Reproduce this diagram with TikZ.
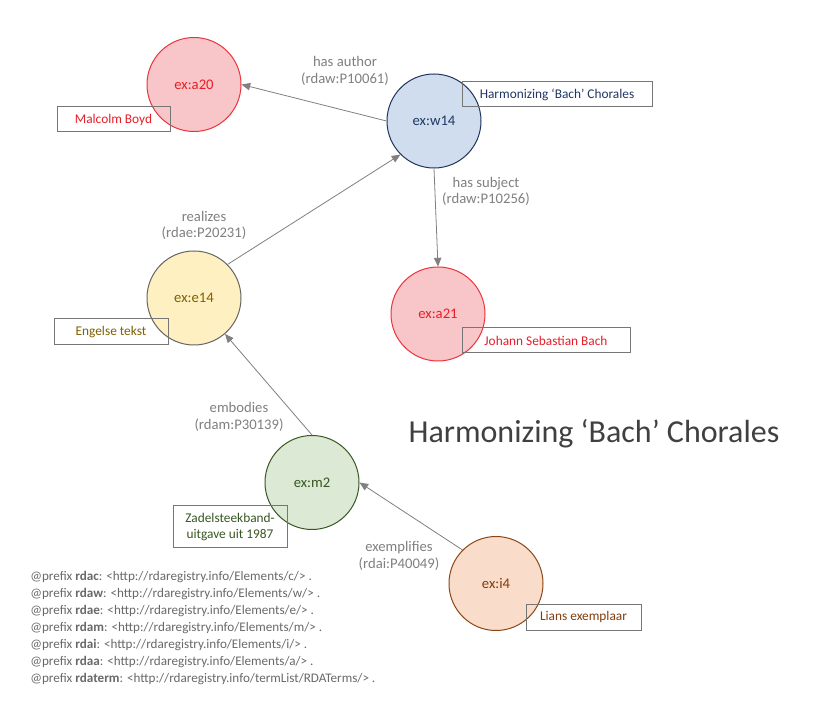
\documentclass[tikz,border=0pt]{standalone}
\usepackage{fontspec}
\setmainfont{Carlito}
\usetikzlibrary{arrows.meta}

\definecolor{relgray}{RGB}{128,128,128}
\definecolor{boxgray}{RGB}{118,118,118}
\definecolor{prefixgray}{RGB}{105,105,105}
\definecolor{titlegray}{RGB}{64,64,64}
\definecolor{agentfill}{RGB}{248,198,200}
\definecolor{agentdraw}{RGB}{236,50,60}
\definecolor{agenttext}{RGB}{230,30,40}
\definecolor{workfill}{RGB}{208,221,238}
\definecolor{workdraw}{RGB}{32,52,92}
\definecolor{worktext}{RGB}{31,56,100}
\definecolor{exprfill}{RGB}{255,240,194}
\definecolor{exprdraw}{RGB}{100,100,100}
\definecolor{exprtext}{RGB}{127,96,0}
\definecolor{manifill}{RGB}{220,233,212}
\definecolor{manidraw}{RGB}{56,87,35}
\definecolor{manitext}{RGB}{56,87,35}
\definecolor{itemfill}{RGB}{250,220,202}
\definecolor{itemdraw}{RGB}{140,70,20}
\definecolor{itemtext}{RGB}{132,60,12}

\begin{document}
\begin{tikzpicture}[x=0.75pt, y=-0.75pt,
    entity/.style={circle, draw, line width=0.75pt, minimum size=70.5pt, inner sep=0pt, font=\fontsize{11}{13}\selectfont},
    note/.style={rectangle, draw=boxgray, line width=0.75pt, minimum height=18.75pt, inner sep=1pt, align=center, font=\fontsize{10}{12}\selectfont},
    rel/.style={text=relgray, align=center, inner sep=0pt, font=\fontsize{11}{12.5}\selectfont},
    arrow/.style={-{Triangle[length=6.5pt,width=5.5pt]}, draw=relgray, line width=0.6pt}]

    \useasboundingbox [fill=white] (0,0) rectangle (815,720);

    \node [entity, fill=agentfill, draw=agentdraw, text=agenttext] (a20) at (194,84.5) {ex:a20};
    \node [entity, fill=workfill, draw=workdraw, text=worktext] (w14) at (434,121) {ex:w14};
    \node [entity, fill=exprfill, draw=exprdraw, text=exprtext] (e14) at (194,298) {ex:e14};
    \node [entity, fill=agentfill, draw=agentdraw, text=agenttext] (a21) at (438,314) {ex:a21};
    \node [entity, fill=manifill, draw=manidraw, text=manitext] (m2) at (312,482.5) {ex:m2};
    \node [entity, fill=itemfill, draw=itemdraw, text=itemtext] (i4) at (496,583.5) {ex:i4};

    \node [note, minimum width=84.75pt, text=agenttext] (boyd) at (113.5,119.5) {Malcolm Boyd};
    \node [note, minimum width=142.5pt, text=worktext] (title14) at (557,94.5) {Harmonizing ‘Bach’ Chorales};
    \node [note, minimum width=85.5pt, minimum height=19.5pt, text=exprtext] (engels) at (111,332) {Engelse tekst};
    \node [note, minimum width=126pt, text=agenttext] (bach) at (546,340.5) {Johann Sebastian Bach};
    \node [note, minimum width=85.5pt, minimum height=31.5pt, text=manitext] (uitgave) at (230,527) {Zadelsteekband-\\uitgave uit 1987};
    \node [note, minimum width=86.25pt, minimum height=19.5pt, text=itemtext] (lians) at (583.5,617) {Lians exemplaar};

    \node [rel] (hasauthor) at (345,71) {has author\\(rdaw:P10061)};
    \node [rel] (hassubject) at (486,191.5) {has subject\\(rdaw:P10256)};
    \node [rel] (realizes) at (204,225.5) {realizes\\(rdae:P20231)};
    \node [rel] (embodies) at (239,417) {embodies\\(rdam:P30139)};
    \node [rel] (exemplifies) at (399,556) {exemplifies\\(rdai:P40049)};

    \node [anchor=base, text=titlegray, font=\fontsize{24}{29}\selectfont] (title) at (594,443) {Harmonizing ‘Bach’ Chorales};

    \node [anchor=north west, align=left, inner sep=0pt, text=prefixgray, font=\fontsize{9.85}{12.8}\selectfont] (prefixes) at (30,571) {%
        @prefix \textbf{rdac}: <http://rdaregistry.info/Elements/c/> .\\
        @prefix \textbf{rdaw}: <http://rdaregistry.info/Elements/w/> .\\
        @prefix \textbf{rdae}: <http://rdaregistry.info/Elements/e/> .\\
        @prefix \textbf{rdam}: <http://rdaregistry.info/Elements/m/> .\\
        @prefix \textbf{rdai}: <http://rdaregistry.info/Elements/i/> .\\
        @prefix \textbf{rdaa}: <http://rdaregistry.info/Elements/a/> .\\
        @prefix \textbf{rdaterm}: <http://rdaregistry.info/termList/RDATerms/> .};

    \draw [arrow] (w14.west) -- (a20.east);
    \draw [arrow] (w14.south) -- (a21.north);
    \draw [arrow] (e14.north east) -- (w14.south west);
    \draw [arrow] (m2.north) -- (e14);
    \draw [arrow] (i4.north west) -- (m2.east);
\end{tikzpicture}
\end{document}
